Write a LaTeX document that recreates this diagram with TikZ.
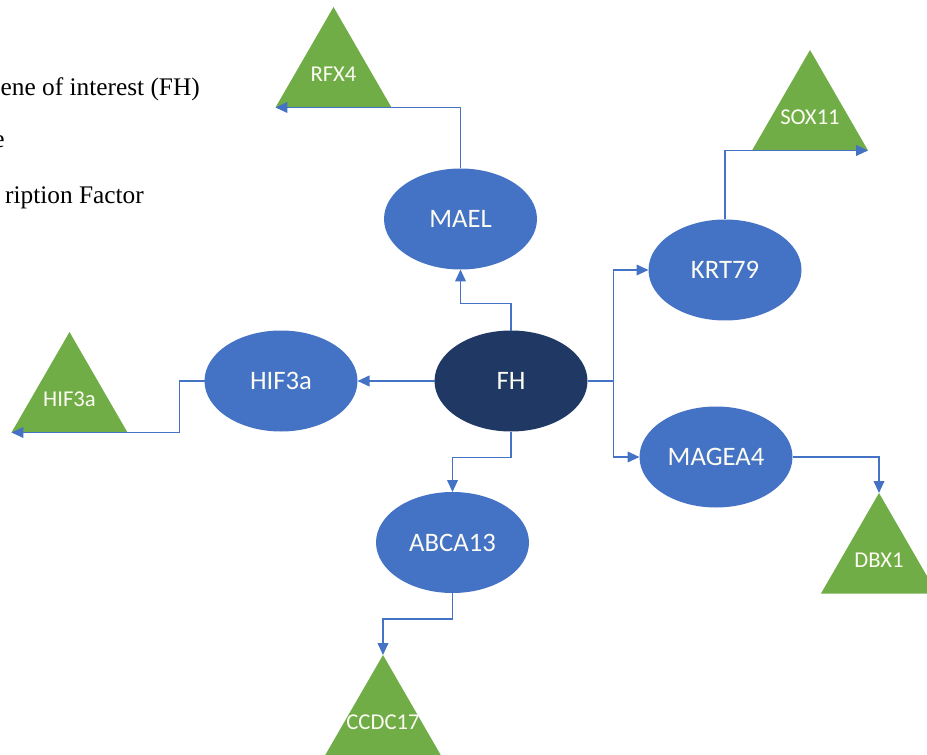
\documentclass[tikz,border=0pt]{standalone}
\usepackage{fontspec}
\setmainfont{Liberation Serif}
\newfontfamily\shapefont{Carlito}
\usetikzlibrary{shapes.geometric,arrows.meta}
\definecolor{nodeblue}{HTML}{4472C4}
\definecolor{fhblue}{HTML}{203864}
\definecolor{tfgreen}{HTML}{70AD47}
\definecolor{txtwhite}{HTML}{FBFBF2}
\tikzset{
  gene/.style={ellipse, fill=nodeblue, draw=none, minimum width=114.75pt, minimum height=75.75pt,
    inner sep=0pt, outer sep=0pt, text=txtwhite, font=\shapefont\fontsize{20}{22}\selectfont},
  goi/.style={gene, fill=fhblue},
  tf/.style={regular polygon, regular polygon sides=3, fill=tfgreen, draw=none,
    minimum size=100.5pt, inner sep=0pt, outer sep=0pt},
  tftext/.style={text=txtwhite, font=\shapefont\fontsize{17}{19}\selectfont, inner sep=0pt},
  legend/.style={anchor=base east, inner sep=0pt, font=\fontsize{19}{21}\selectfont},
  conn/.style={draw=nodeblue, line width=1.3pt, -{Triangle[length=9pt,width=8pt]}},
  plain/.style={draw=nodeblue, line width=1.3pt}
}
\begin{document}
\begin{tikzpicture}[x=0.75pt,y=-0.75pt]
\useasboundingbox (0,0) rectangle (927,755);
% legend text (cut at left)
\node[legend] (lg1) at (200,96) {ene of interest (FH)};
\node[legend] (lg2) at (5,148) {e};
\node[legend] (lg3) at (144,204) {ription Factor};
% triangles (transcription factors)
\node[tf] (rfx) at (333.5,74) {};
\node[tftext] (rfxt) at (rfx.center) {RFX4};
\node[tf] (sox) at (810,117) {};
\node[tftext] (soxt) at (sox.center) {SOX11};
\node[tf] (hift) at (69.5,399) {};
\node[tftext] (hiftt) at (hift.center) {HIF3a};
\node[tf] (dbx) at (879,560) {};
\node[tftext] (dbxt) at (dbx.center) {DBX1};
\node[tf] (ccdc) at (383,722) {};
\node[tftext] (ccdct) at (ccdc.center) {CCDC17};
% genes
\node[goi] (fh) at (511,381) {FH};
\node[gene] (mael) at (460.5,219) {MAEL};
\node[gene] (krt) at (725,270) {KRT79};
\node[gene] (hif) at (281,381) {HIF3a};
\node[gene] (mag) at (716,457) {MAGEA4};
\node[gene] (abc) at (452.5,542.5) {ABCA13};
% connectors from FH
\draw[conn] (fh.north) -- ++(0,-27) -| (mael.south);
\draw[conn] (fh.west) -- (hif.east);
\draw[conn] (fh.south) -- ++(0,26) -| (abc.north);
\draw[plain] (fh.east) -- ++(26,0) coordinate (split);
\draw[conn] (split) |- (krt.west);
\draw[conn] (split) |- (mag.west);
% connectors to TFs
\draw[conn] (mael.north) |- (rfx.corner 2);
\draw[conn] (krt.north) |- (sox.corner 3);
\draw[conn] (hif.west) -- ++(-25,0) |- (hift.corner 2);
\draw[conn] (mag.east) -| (dbx.corner 1);
\draw[conn] (abc.south) -- ++(0,26) -| (ccdc.corner 1);
\end{tikzpicture}
\end{document}
